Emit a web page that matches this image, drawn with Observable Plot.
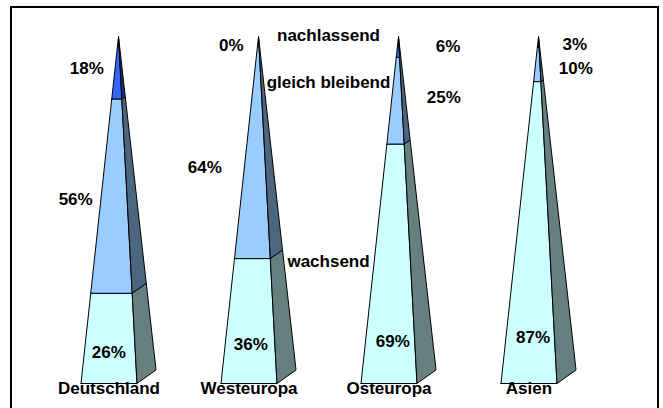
<!DOCTYPE html>
<html>
<head>
<meta charset="utf-8">
<script src="https://cdn.jsdelivr.net/npm/d3@7"></script>
<script src="https://cdn.jsdelivr.net/npm/@observablehq/plot@0.6"></script>
<style>
  html, body { margin: 0; padding: 0; background: #fff; overflow: hidden; width: 663px; height: 408px; }
  #wrap { position: relative; width: 663px; height: 408px; }
  #frame { position: absolute; left: 10px; top: 6px; width: 649px; height: 420px; border: 2px solid #000; box-sizing: border-box; pointer-events: none; }
  #chart { position: absolute; left: 0; top: 0; }
</style>
</head>
<body>
<div id="wrap"><div id="chart"></div><div id="frame"></div></div>
<script>
// ---- data ----
const categories = ["Deutschland", "Westeuropa", "Osteuropa", "Asien"];
const seriesNames = ["wachsend", "gleich bleibend", "nachlassend"];
const wachsend = [26, 36, 69, 87];
const gleichBleibend = [56, 64, 25, 10];
const nachlassend = [18, 0, 6, 3];

// ---- styles ----
const frontColors = ["#CCFFFF", "#99CCFF", "#3366FF"];
const sideColors = ["#668080", "#4D6680", "#1A3380"];

// ---- layout (data units: category index / stacked percent) ----
const W = 0.4, DX = 0.136, DY = 3.9;
// label placement per category per series: [dx from category, y]
const pctLayout = [
  [[-0.069, 8.8], [-0.306, 53.1], [-0.226, 90.7]],
  [[-0.055, 11.2], [-0.383, 62.2], [-0.194, 97.4]],
  [[-0.041, 12.0], [0.324, 82.5], [0.354, 97.1]],
  [[-0.039, 13.3], [0.267, 90.9], [0.259, 97.6]]
];
const seriesLabelLayout = [[1.5, 35.2], [1.5, 86.8], [1.5, 100.3]];
const catLabelY = -1.5;

const values = categories.map((c, i) => [wachsend[i], gleichBleibend[i], nachlassend[i]]);

const polys = [];
categories.forEach((cat, i) => {
  const vals = values[i];
  const total = d3.sum(vals);
  const A = [i, total];
  const FL = [i - W / 2 - DX / 2, 0];
  const FR = [i + W / 2 - DX / 2, 0];
  const BR = [i + W / 2 + DX / 2, DY];
  const lerp = (p, t) => [p[0] + (A[0] - p[0]) * t, p[1] + (A[1] - p[1]) * t];
  let acc = 0;
  vals.forEach((v, s) => {
    const t1 = acc / total, t2 = (acc + v) / total;
    acc += v;
    if (v <= 0) return;
    const front = [lerp(FL, t1), lerp(FR, t1), lerp(FR, t2), lerp(FL, t2), lerp(FL, t1)];
    const side = [lerp(FR, t1), lerp(BR, t1), lerp(BR, t2), lerp(FR, t2), lerp(FR, t1)];
    front.forEach(p => polys.push({id: `${i}-${s}-f`, x: p[0], y: p[1], color: frontColors[s]}));
    side.forEach(p => polys.push({id: `${i}-${s}-s`, x: p[0], y: p[1], color: sideColors[s]}));
  });
});

const pctLabels = [];
categories.forEach((cat, i) => {
  values[i].forEach((v, s) => {
    pctLabels.push({x: i + pctLayout[i][s][0], y: pctLayout[i][s][1], text: `${v}%`});
  });
});
const seriesLabels = seriesNames.map((n, s) => ({x: seriesLabelLayout[s][0], y: seriesLabelLayout[s][1], text: n}));
const catLabels = categories.map((c, i) => ({x: i - DX / 2, y: catLabelY, text: c}));

const textOpts = {fontSize: 17, fontWeight: "bold", fill: "#000", textAnchor: "middle", lineAnchor: "middle"};

const chart = Plot.plot({
  width: 663,
  height: 408,
  marginLeft: 48,
  marginRight: 55,
  marginTop: 36,
  marginBottom: 25,
  x: {type: "linear", domain: [-0.5, 3.5], axis: null},
  y: {type: "linear", domain: [0, 100], axis: null},
  color: {type: "identity"},
  style: {fontFamily: "'Liberation Sans', Arial, Helvetica, sans-serif", background: "transparent"},
  marks: [
    Plot.line(polys, {x: "x", y: "y", z: "id", fill: "color", stroke: "#000", strokeWidth: 1, curve: "linear"}),
    Plot.text(pctLabels, {x: "x", y: "y", text: "text", ...textOpts}),
    Plot.text(seriesLabels, {x: "x", y: "y", text: "text", ...textOpts}),
    Plot.text(catLabels, {x: "x", y: "y", text: "text", ...textOpts})
  ]
});
document.getElementById("chart").appendChild(chart);
</script>
</body>
</html>
